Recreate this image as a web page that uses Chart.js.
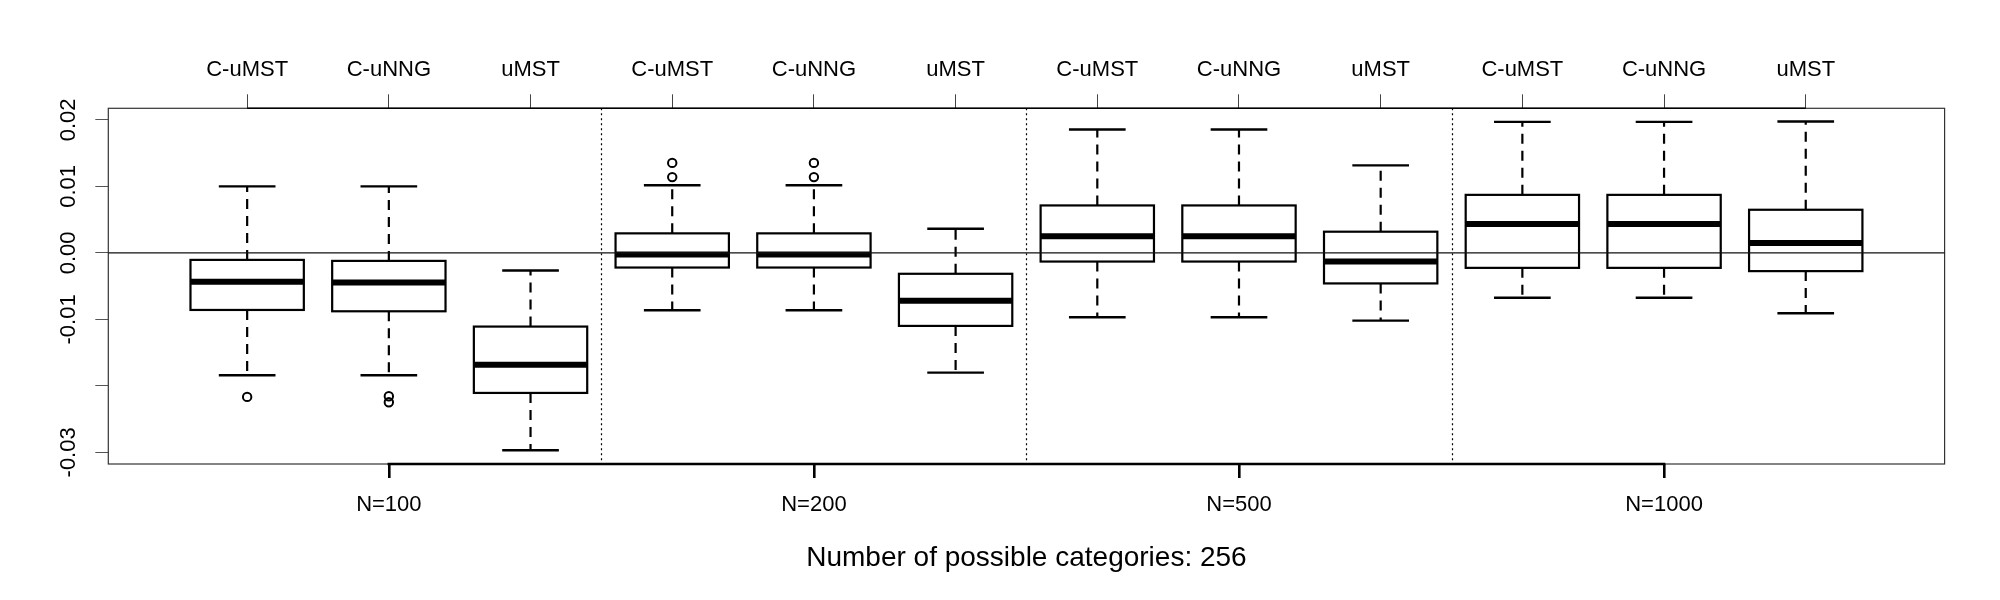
<!DOCTYPE html>
<html>
<head>
<meta charset="utf-8">
<script src="https://cdn.jsdelivr.net/npm/chart.js@4.4.1/dist/chart.umd.min.js"></script>
<style>
  html, body { margin: 0; padding: 0; background: #ffffff; }
  #wrap { width: 2000px; height: 600px; }
</style>
</head>
<body>
<div id="wrap"><canvas id="c" width="2000" height="600"></canvas></div>
<script>
// ---- data ----
const methods = ["C-uMST", "C-uNNG", "uMST"];
const groups = ["N=100", "N=200", "N=500", "N=1000"];
const topLabels = ["C-uMST", "C-uNNG", "uMST", "C-uMST", "C-uNNG", "uMST",
                   "C-uMST", "C-uNNG", "uMST", "C-uMST", "C-uNNG", "uMST"];
const whiskerLow  = [-0.0184, -0.0184, -0.02969, -0.00863, -0.00863, -0.01801, -0.00968, -0.00968, -0.01018, -0.00674, -0.00674, -0.00908];
const q1          = [-0.00858, -0.00878, -0.02106, -0.0022, -0.0022, -0.01098, -0.0013, -0.0013, -0.00459, -0.00225, -0.00225, -0.00274];
const medians     = [-0.00434, -0.00444, -0.01682, -0.00025, -0.00025, -0.00719, 0.0025, 0.0025, -0.0013, 0.00434, 0.00434, 0.0015];
const q3          = [-0.00105, -0.0012, -0.01108, 0.00294, 0.00294, -0.00314, 0.00714, 0.00714, 0.00319, 0.00873, 0.00873, 0.00649];
const whiskerHigh = [0.0100, 0.0100, -0.00264, 0.01018, 0.01018, 0.00364, 0.01856, 0.01856, 0.01317, 0.01971, 0.01971, 0.01976];
const outlierBox   = [1, 2, 2, 4, 4, 5, 5];
const outlierValue = [-0.02166, -0.02156, -0.02246, 0.0114, 0.01354, 0.0114, 0.01354];
const yTickValues = [-0.03, -0.02, -0.01, 0.00, 0.01, 0.02];
const yTickLabels = ["-0.03", "", "-0.01", "0.00", "0.01", "0.02"];
const xTitle = "Number of possible categories: 256";

// ---- style constants ----
const FONT = "'Liberation Sans', Arial, Helvetica, sans-serif";
const BOX_HALF = 0.4, CAP_HALF = 0.2;

const boxPositions = topLabels.map((_, i) => i + 1);
const groupPositions = groups.map((_, g) => g * methods.length + 2);
const separators = groups.slice(1).map((_, g) => (g + 1) * methods.length + 0.5);
const outlierPoints = outlierBox.map((b, i) => ({ x: b, y: outlierValue[i] }));

const bgPlugin = {
  id: 'bg',
  beforeDraw(chart) {
    const c = chart.ctx;
    c.save(); c.fillStyle = '#fff'; c.fillRect(0, 0, chart.width, chart.height); c.restore();
  }
};

const boxPlugin = {
  id: 'boxes',
  afterDatasetsDraw(chart) {
    const { ctx, chartArea: a, scales } = chart;
    const x = scales.x, y = scales.y;
    ctx.save();
    // frame
    ctx.strokeStyle = '#333'; ctx.lineWidth = 1.2; ctx.setLineDash([]);
    ctx.strokeRect(a.left, a.top, a.right - a.left, a.bottom - a.top);
    // separators
    ctx.strokeStyle = '#000'; ctx.lineWidth = 1.2; ctx.setLineDash([2, 3]);
    separators.forEach(s => {
      const px = Math.round(x.getPixelForValue(s)) + 0.5;
      ctx.beginPath(); ctx.moveTo(px, a.top); ctx.lineTo(px, a.bottom); ctx.stroke();
    });
    ctx.setLineDash([]);
    ctx.lineCap = 'butt';
    for (let i = 0; i < boxPositions.length; i++) {
      const p = boxPositions[i];
      const xc = x.getPixelForValue(p);
      const xl = x.getPixelForValue(p - BOX_HALF), xr = x.getPixelForValue(p + BOX_HALF);
      const cl = x.getPixelForValue(p - CAP_HALF), cr = x.getPixelForValue(p + CAP_HALF);
      const yq1 = y.getPixelForValue(q1[i]), yq3 = y.getPixelForValue(q3[i]);
      const ylo = y.getPixelForValue(whiskerLow[i]), yhi = y.getPixelForValue(whiskerHigh[i]);
      const ym = y.getPixelForValue(medians[i]);
      ctx.strokeStyle = '#000';
      // whiskers
      ctx.lineWidth = 2.2; ctx.setLineDash([10, 7]);
      ctx.beginPath(); ctx.moveTo(xc, yq3); ctx.lineTo(xc, yhi); ctx.stroke();
      ctx.beginPath(); ctx.moveTo(xc, yq1); ctx.lineTo(xc, ylo); ctx.stroke();
      ctx.setLineDash([]);
      // caps
      ctx.lineWidth = 2.4;
      ctx.beginPath(); ctx.moveTo(cl, yhi); ctx.lineTo(cr, yhi); ctx.stroke();
      ctx.beginPath(); ctx.moveTo(cl, ylo); ctx.lineTo(cr, ylo); ctx.stroke();
      // box
      ctx.lineWidth = 2.2;
      ctx.strokeRect(xl, yq3, xr - xl, yq1 - yq3);
      // median
      ctx.lineWidth = 6;
      ctx.beginPath(); ctx.moveTo(xl, ym); ctx.lineTo(xr, ym); ctx.stroke();
    }
    // zero line
    const y0 = y.getPixelForValue(0);
    ctx.strokeStyle = '#111'; ctx.lineWidth = 1.4;
    ctx.beginPath(); ctx.moveTo(a.left, y0); ctx.lineTo(a.right, y0); ctx.stroke();
    // top axis line
    ctx.strokeStyle = '#000'; ctx.lineWidth = 1.4;
    ctx.beginPath();
    ctx.moveTo(x.getPixelForValue(boxPositions[0]), a.top);
    ctx.lineTo(x.getPixelForValue(boxPositions[boxPositions.length - 1]), a.top);
    ctx.stroke();
    // bottom axis line
    ctx.lineWidth = 2.6;
    ctx.beginPath();
    ctx.moveTo(x.getPixelForValue(groupPositions[0]) - 1.3, a.bottom);
    ctx.lineTo(x.getPixelForValue(groupPositions[groupPositions.length - 1]) + 1.3, a.bottom);
    ctx.stroke();
    ctx.restore();
  }
};

const tickFont = { family: FONT, size: 22, weight: 'normal' };

new Chart(document.getElementById('c'), {
  type: 'scatter',
  data: {
    datasets: [{
      data: outlierPoints,
      xAxisID: 'x', yAxisID: 'y',
      pointStyle: 'circle', pointRadius: 4.2, pointBorderWidth: 2,
      borderColor: '#000', backgroundColor: 'rgba(0,0,0,0)',
      pointHoverRadius: 4.2
    }]
  },
  options: {
    responsive: false, animation: false, devicePixelRatio: 1,
    events: [],
    layout: { padding: { left: 0, right: 55.4, top: 0, bottom: 24.9 } },
    plugins: {
      legend: { display: false },
      tooltip: { enabled: false },
      title: {
        display: true, text: xTitle, position: 'bottom', fullSize: false,
        color: '#000', font: { family: FONT, size: 28, weight: 'normal' },
        padding: { top: 27.5, bottom: 0 }
      }
    },
    scales: {
      x: {
        type: 'linear', position: 'bottom', min: 0.02, max: 12.98, bounds: 'data',
        afterBuildTicks: s => { s.ticks = groupPositions.map(v => ({ value: v })); },
        ticks: { callback: (v, i) => groups[i], font: tickFont, color: '#000', padding: 13.5,
                 autoSkip: false, minRotation: 0, maxRotation: 0 },
        grid: { drawOnChartArea: false, drawTicks: true, tickLength: 14, color: '#000', lineWidth: 2.6 },
        border: { display: false },
        afterFit: s => { s.height = 50; }
      },
      x2: {
        type: 'linear', position: 'top', min: 0.02, max: 12.98, bounds: 'data',
        afterBuildTicks: s => { s.ticks = boxPositions.map(v => ({ value: v })); },
        ticks: { callback: (v, i) => topLabels[i], font: tickFont, color: '#000', padding: 11.4,
                 autoSkip: false, minRotation: 0, maxRotation: 0 },
        grid: { drawOnChartArea: false, drawTicks: true, tickLength: 14, color: '#444', lineWidth: 1 },
        border: { display: false },
        afterFit: s => { s.height = 108.3; }
      },
      y: {
        type: 'linear', position: 'left', min: -0.03175, max: 0.02175, bounds: 'data',
        afterBuildTicks: s => { s.ticks = yTickValues.map(v => ({ value: v })); },
        ticks: { callback: (v, i) => yTickLabels[i], font: tickFont, color: '#000', padding: 1,
                 minRotation: 90, maxRotation: 90, crossAlign: 'center', autoSkip: false },
        grid: { drawOnChartArea: false, drawTicks: true, tickLength: 13, color: '#555', lineWidth: 1 },
        border: { display: false },
        afterFit: s => { s.width = 108.3; }
      }
    }
  },
  plugins: [bgPlugin, boxPlugin]
});
</script>
</body>
</html>
